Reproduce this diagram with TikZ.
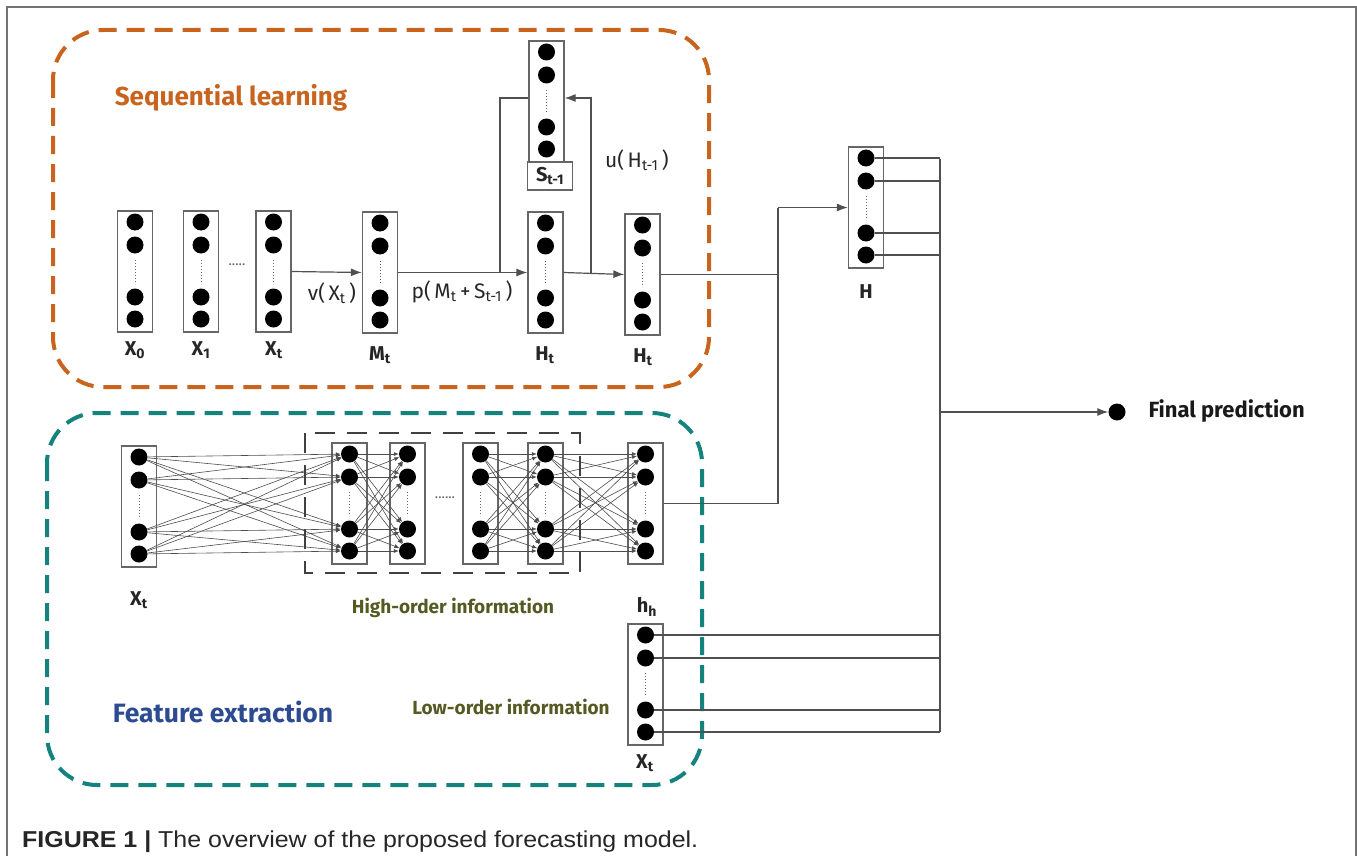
\documentclass[tikz,border=0pt]{standalone}
\usepackage{fontspec}
\setmainfont{Fira Sans}
\newfontfamily\capfont{Liberation Sans}
\usetikzlibrary{arrows.meta}
\definecolor{orng}{RGB}{200,100,30}
\definecolor{teal2}{RGB}{20,130,125}
\definecolor{olive2}{RGB}{85,90,35}
\definecolor{blue2}{RGB}{45,75,145}
\definecolor{frame}{RGB}{115,115,115}
\definecolor{linec}{RGB}{80,80,80}
\newcommand{\layercol}[3]{%
  \node[colbox] (#1) at (#2,#3+60.5) {};
  \foreach \k/\o in {1/11,2/34,3/86,4/108} \node[ndot] (#1-\k) at (#2,#3+\o) {};
  \draw[black!60, line width=1pt, dotted] (#2,#3+49) -- (#2,#3+73);
}
\begin{document}
\begin{tikzpicture}[x=1pt,y=-1pt,
  colbox/.style={draw=black!60, line width=1.3pt, minimum width=35pt, minimum height=121pt, inner sep=0pt},
  ndot/.style={circle, fill=black, minimum size=17pt, inner sep=0pt},
  conn/.style={draw=linec, line width=1.2pt},
  arr/.style={conn, -{Latex[length=11pt,width=8pt]}},
  net/.style={draw=black!70, line width=0.6pt, -{Latex[length=5pt,width=4pt]}},
  lbl/.style={font=\fontsize{20}{22}\selectfont\bfseries, text=black!85},
  fn/.style={font=\fontsize{21}{23}\selectfont, text=black!85},
  region/.style={line width=4pt, dash pattern=on 18pt off 10pt, rounded corners=50pt},
  info/.style={font=\fontsize{19}{21}\selectfont\bfseries, text=olive2},
]
\useasboundingbox (0,0) rectangle (1357,856);
% outer frame
\draw[frame, line width=2pt] (7,856) -- (7,7) -- (1356,7) -- (1356,856);
% regions
\draw[region, orng] (53,30) rectangle (709,387);
\draw[region, teal2] (47,413) rectangle (702,785);
\node[font=\fontsize{26}{28}\selectfont\bfseries, text=orng] (seqt) at (231,98) {Sequential learning};
\node[font=\fontsize{26.5}{28}\selectfont\bfseries, text=blue2] (feat) at (223,712) {Feature extraction};

% ---- sequential learning ----
\layercol{X0}{135}{211}
\layercol{X1}{201}{211}
\layercol{Xt}{273.5}{211}
\layercol{M}{380}{212}
\layercol{Ht}{545.5}{212}
\layercol{Htb}{642.5}{214}
\layercol{S}{546.5}{41}
\node[draw=black!60, line width=1.3pt, minimum width=45pt, minimum height=28pt, inner sep=0pt, lbl] (slab) at (550,176) {S\textsubscript{t-1}};
\node[black!60, font=\fontsize{14}{14}\selectfont] (dd1) at (237,265) {.....};

\node[lbl] (lX0) at (135,350) {X\textsubscript{0}};
\node[lbl] (lX1) at (201,350) {X\textsubscript{1}};
\node[lbl] (lXt) at (274,350) {X\textsubscript{t}};
\node[lbl] (lM) at (380,355) {M\textsubscript{t}};
\node[lbl] (lHt) at (545,355) {H\textsubscript{t}};
\node[lbl] (lHtb) at (643,357) {H\textsubscript{t}};

\draw[arr] (Xt.east) -- (M.west);
\node[fn] (vlab) at (332,293) {v(\,X\textsubscript{t}\,)};
\draw[arr] (M.east) -- (Ht.west);
\node[fn] (plab) at (462,292) {p(\,M\textsubscript{t}\,+\,S\textsubscript{t-1}\,)};
\draw[arr] (Ht.east) -- (Htb.west);
\coordinate (fa) at (500,98);
\coordinate (fc) at (591,98);
\draw[conn] (M.east -| fa) -- (fa) -- (fa -| S.west);
\draw[arr] (Ht.east -| fc) -- (fc) -- (fc -| S.east);
\node[fn] (ulab) at (637,160) {u(\,H\textsubscript{t-1}\,)};

% ---- H and output ----
\layercol{H}{866}{147}
\node[lbl] (lH) at (866,292) {H};
\coordinate (j1) at (778,207.5);
\draw[conn] (Htb.east) -| (j1);
\draw[arr] (j1) -- (H.west);
\coordinate (vt) at (940,159);
\foreach \k in {1,2,3,4} \draw[conn] (H-\k) -- (H-\k -| vt);

% ---- feature extraction ----
\layercol{FX}{139}{446}
\layercol{A}{349.5}{443}
\layercol{B}{407.5}{443}
\layercol{C}{480.5}{443}
\layercol{D}{545.5}{443}
\layercol{E}{645.5}{443}
\foreach \i in {1,2,3,4} \foreach \j in {1,2,3,4} {
  \draw[net] (FX-\i) -- (A-\j);
  \draw[net] (A-\i) -- (B-\j);
  \draw[net] (C-\i) -- (D-\j);
  \draw[net] (D-\i) -- (E-\j);
}
\draw[black!75, line width=1.8pt, dash pattern=on 20pt off 12pt] (305,433) rectangle (580,573);
\node[black!60, font=\fontsize{14}{14}\selectfont] (dd2) at (445,498) {......};
\node[lbl] (lFX) at (139,600) {X\textsubscript{t}};
\node[info] (hoi) at (453,608) {High-order information};
\node[lbl] (lhh) at (647,607) {h\textsubscript{h}};
\draw[conn] (E.east) -| (j1);

\layercol{L}{645.5}{624}
\node[info] (loi) at (511,707) {Low-order information};
\node[lbl] (lL) at (645,763) {X\textsubscript{t}};
\foreach \k in {1,2,3,4} \draw[conn] (L-\k) -- (L-\k -| vt);
\draw[conn] (vt) -- (L-4 -| vt);

% final prediction
\node[ndot] (fdot) at (1117,412) {};
\draw[arr] (vt |- fdot) -- (fdot);
\node[font=\fontsize{22}{24}\selectfont\bfseries, text=black!90, anchor=west] (fpt) at (1145,411) {Final prediction};

% caption
\node[anchor=west, inner sep=0pt, text=black!85] (cap) at (22,842) {\resizebox{676pt}{\height}{\capfont\fontsize{23}{25}\selectfont\textbf{FIGURE 1 |} The overview of the proposed forecasting model.}};
\end{tikzpicture}
\end{document}
